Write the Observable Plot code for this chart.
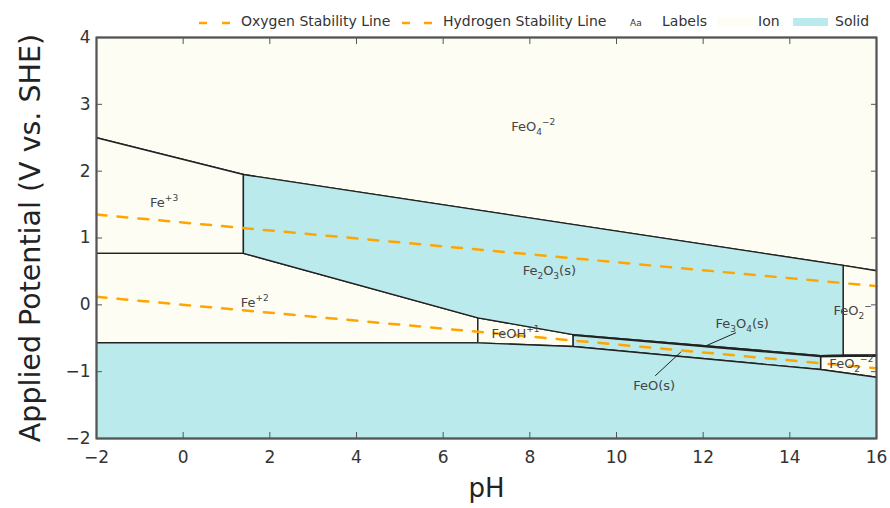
<!DOCTYPE html>
<html>
<head>
<meta charset="utf-8">
<script src="https://cdn.jsdelivr.net/npm/d3@7"></script>
<script src="https://cdn.jsdelivr.net/npm/@observablehq/plot@0.6"></script>
<style>
  body { margin: 0; background: white; }
  #wrap { width: 890px; }
  #legend { position: relative; height: 30px; width: 890px; font-family: "DejaVu Sans", sans-serif; font-size: 14px; color: #333; }
  #legend .it { position: absolute; top: 13px; line-height: 17px; white-space: nowrap; }
</style>
</head>
<body>
<div id="wrap">
  <div id="legend"></div>
  <div id="chart"></div>
</div>
<script>
// ---- data (pH, potential V vs SHE) ----
const phTicks = [-2, 0, 2, 4, 6, 8, 10, 12, 14, 16];
const vTicks = [-2, -1, 0, 1, 2, 3, 4];

const feo4Region   = [[-2, 4], [16, 4], [16, 0.51], [15.23, 0.59], [1.39, 1.95], [-2, 2.5]];
const fe3Region    = [[-2, 2.5], [1.39, 1.95], [1.39, 0.77], [-2, 0.77]];
const fe2Region    = [[-2, 0.77], [1.39, 0.77], [6.8, -0.195], [6.8, -0.565], [-2, -0.565]];
const feohRegion   = [[6.8, -0.195], [9.0, -0.445], [9.0, -0.624], [6.8, -0.569]];
const feo2Region   = [[15.23, 0.59], [16, 0.51], [16, -0.75], [15.23, -0.755]];
const feo2m2Region = [[14.71, -0.775], [16, -0.765], [16, -1.083], [14.71, -0.968]];
const fe2o3Region  = [[1.39, 1.95], [15.23, 0.59], [15.23, -0.755], [14.71, -0.76], [9.0, -0.445], [6.8, -0.195], [1.39, 0.77]];
const fe3o4Region  = [[9.0, -0.445], [14.71, -0.76], [15.23, -0.755], [16, -0.75], [16, -0.765], [14.71, -0.775], [9.0, -0.457]];
const feoRegion    = [[9.0, -0.457], [14.71, -0.775], [14.71, -0.968], [9.0, -0.624]];
const feRegion     = [[-2, -0.565], [6.8, -0.569], [9.0, -0.624], [14.71, -0.968], [16, -1.083], [16, -2], [-2, -2]];

const ionRegions = [feo4Region, fe3Region, fe2Region, feohRegion, feo2Region, feo2m2Region];
const solidRegions = [fe2o3Region, fe3o4Region, feoRegion, feRegion];

const oxygenLine = [[-2, 1.35], [16, 0.28]];
const hydrogenLine = [[-2, 0.12], [16, -0.95]];

const labelText = ["FeO₄⁻²", "Fe⁺³", "Fe⁺²", "Fe₂O₃(s)", "FeOH⁺¹", "Fe₃O₄(s)", "FeO(s)", "FeO₂⁻", "FeO₂⁻²"];
const labelPH   = [8.08, -0.44, 1.65, 8.45, 7.67, 12.9, 10.87, 15.45, 15.42];
const labelV    = [2.67, 1.53, 0.035, 0.51, -0.434, -0.28, -1.21, -0.085, -0.883];

const leaderFe3o4 = [[12.08, -0.609], [12.75, -0.419]];
const leaderFeo   = [[10.9, -1.058], [11.48, -0.709]];

// ---- styles ----
const ionColor = "#fdfdf4";
const solidColor = "#bbeaec";
const orange = "#ffa500";
const edge = "#222";

// ---- legend ----
const legendItems = [
  {html: `<svg width="32" height="4"><line x1="0" y1="2" x2="32" y2="2" stroke="${orange}" stroke-width="2.5" stroke-dasharray="8,15"/></svg>`, left: 199, top: 20},
  {html: "Oxygen Stability Line", left: 241},
  {html: `<svg width="32" height="4"><line x1="0" y1="2" x2="32" y2="2" stroke="${orange}" stroke-width="2.5" stroke-dasharray="8,14"/></svg>`, left: 402, top: 20},
  {html: "Hydrogen Stability Line", left: 443},
  {html: `<span style="font-size:9px">Aa</span>`, left: 630},
  {html: "Labels", left: 662},
  {html: `<div style="width:36px;height:8px;background:${ionColor}"></div>`, left: 717, top: 18},
  {html: "Ion", left: 758},
  {html: `<div style="width:35px;height:8px;background:${solidColor}"></div>`, left: 793, top: 18},
  {html: "Solid", left: 835}
];
const legend = document.getElementById("legend");
for (const it of legendItems) {
  const d = document.createElement("div");
  d.className = "it";
  d.style.left = it.left + "px";
  if (it.top != null) { d.style.top = it.top + "px"; d.style.lineHeight = "0"; }
  d.innerHTML = it.html;
  legend.appendChild(d);
}

// ---- chart ----
const regionMark = (pts, fill) => Plot.line(pts, {
  x: d => d[0], y: d => d[1], curve: "linear-closed",
  fill, stroke: edge, strokeWidth: 1.4, strokeLinejoin: "round"
});

const labels = labelText.map((t, i) => ({t, ph: labelPH[i], v: labelV[i]}));

const chart = Plot.plot({
  width: 890,
  height: 478,
  marginTop: 7,
  marginBottom: 70,
  marginLeft: 96,
  marginRight: 14,
  x: {domain: [-2, 16]},
  y: {domain: [-2, 4]},
  style: {fontFamily: "DejaVu Sans, sans-serif", fontSize: "17px", color: "#333", background: "white", overflow: "visible"},
  marks: [
    ...ionRegions.map(r => regionMark(r, ionColor)),
    ...solidRegions.map(r => regionMark(r, solidColor)),
    Plot.line(oxygenLine, {x: d => d[0], y: d => d[1], stroke: orange, strokeWidth: 2.5, strokeDasharray: "10,11"}),
    Plot.line(hydrogenLine, {x: d => d[0], y: d => d[1], stroke: orange, strokeWidth: 2.5, strokeDasharray: "10,11"}),
    Plot.line(leaderFe3o4, {x: d => d[0], y: d => d[1], stroke: "#222", strokeWidth: 1}),
    Plot.line(leaderFeo, {x: d => d[0], y: d => d[1], stroke: "#222", strokeWidth: 1}),
    Plot.text(labels, {x: "ph", y: "v", text: "t", fontSize: 13, fill: "#444", className: "region-label"}),
    Plot.frame({stroke: "#555", strokeWidth: 2}),
    Plot.axisX(phTicks, {anchor: "bottom", tickSize: -6, tickPadding: 18, stroke: "#555", label: null, fontSize: 17, tickFormat: "d"}),
    Plot.axisX(phTicks, {anchor: "top", tickSize: -6, stroke: "#555", fill: "none", label: null}),
    Plot.axisY(vTicks, {anchor: "left", tickSize: -6, tickPadding: 12, stroke: "#555", label: null, fontSize: 17, tickFormat: "d"}),
    Plot.axisY(vTicks, {anchor: "right", tickSize: -6, stroke: "#555", fill: "none", label: null}),
    Plot.text(["Applied Potential (V vs. SHE)"], {frameAnchor: "left", textAnchor: "middle", dx: -66, rotate: -90, fontSize: 28.5, fill: "#222"}),
    Plot.text(["pH"], {frameAnchor: "bottom", dy: 58, fontSize: 26, fill: "#222"})
  ]
});

// render unicode sub/superscripts as tspans for nicer typesetting
const SUB = "₀₁₂₃₄₅₆₇₈₉", SUP = "⁰¹²³⁴⁵⁶⁷⁸⁹⁺⁻", SUPN = "0123456789+-";
chart.querySelectorAll("g.region-label text").forEach(el => {
  const s = el.textContent;
  el.textContent = "";
  let runs = [];
  for (const ch of s) {
    let kind = "n", c = ch;
    if (SUB.includes(ch)) { kind = "sub"; c = String(SUB.indexOf(ch)); }
    else if (SUP.includes(ch)) { kind = "sup"; c = SUPN[SUP.indexOf(ch)]; if (c === "-") c = "−"; }
    if (runs.length && runs[runs.length - 1].kind === kind) runs[runs.length - 1].t += c;
    else runs.push({kind, t: c});
  }
  let cur = 0;
  for (const r of runs) {
    const ts = document.createElementNS("http://www.w3.org/2000/svg", "tspan");
    const target = r.kind === "sub" ? 4 : r.kind === "sup" ? -6 : 0;
    ts.setAttribute("dy", String(target - cur));
    cur = target;
    if (r.kind !== "n") ts.setAttribute("font-size", "9");
    ts.textContent = r.t;
    el.appendChild(ts);
  }
});

document.getElementById("chart").appendChild(chart);
</script>
</body>
</html>
